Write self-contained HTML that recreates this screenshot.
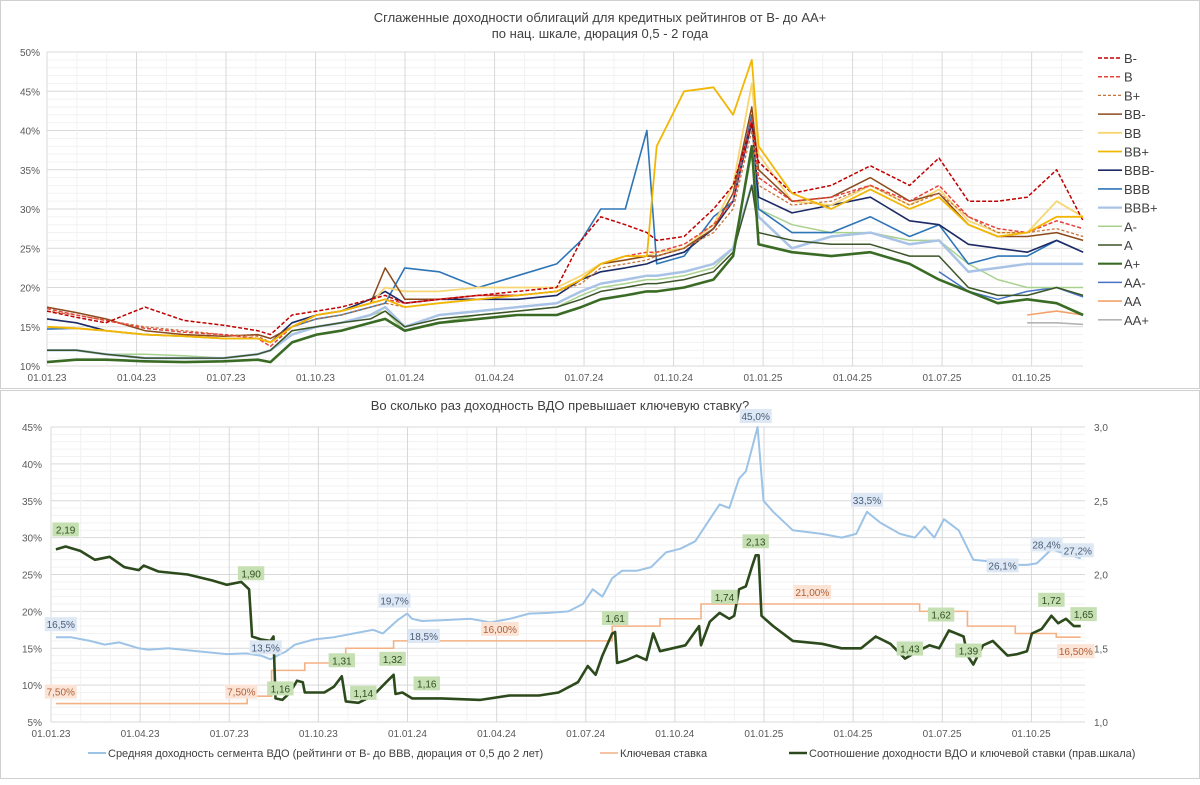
<!DOCTYPE html>
<html><head><meta charset="utf-8">
<style>
html,body{margin:0;padding:0;background:#fff;}
body{width:1200px;height:780px;overflow:hidden;font-family:"Liberation Sans",sans-serif;}
svg text{font-family:"Liberation Sans",sans-serif;}
</style></head>
<body>
<svg id="chart" width="1200" height="780" viewBox="0 0 1200 780" xmlns="http://www.w3.org/2000/svg">
<rect x="0.5" y="0.5" width="1199" height="388" fill="#fff" stroke="#d0d0d0"/>
<rect x="0.5" y="390.5" width="1199" height="388" fill="#fff" stroke="#d0d0d0"/>
<text x="600" y="22" text-anchor="middle" font-size="13" fill="#404040">Сглаженные доходности облигаций для кредитных рейтингов от B- до AA+</text>
<text x="600" y="38" text-anchor="middle" font-size="13" fill="#404040">по нац. шкале, дюрация 0,5 - 2 года</text>
<text x="560" y="410" text-anchor="middle" font-size="13" fill="#404040">Во сколько раз доходность ВДО превышает ключевую ставку?</text>
<g id="topChart"></g>
<g id="bottomChart"></g>
</svg>
<script>
// ---------- TOP CHART DATA ----------
const topDays = [0,30,60,100,140,180,215,228,250,275,300,330,345,365,400,440,480,520,545,565,590,612,622,650,680,700,719,726,760,800,840,880,910,940,970,1000,1030,1057];
const topXTicks = ['01.01.23','01.04.23','01.07.23','01.10.23','01.01.24','01.04.24','01.07.24','01.10.24','01.01.25','01.04.25','01.07.25','01.10.25'];
const topYTicks = [10,15,20,25,30,35,40,45,50];
const seriesNames = ['B-','B','B+','BB-','BB','BB+','BBB-','BBB','BBB+','A-','A','A+','AA-','AA','AA+'];
const sBm = [17,16.2,15.5,17.5,15.8,15.2,14.5,14,16.5,17,17.5,18.5,19,18,18.5,19,19.5,20,26,29,28,27,26,26.5,30,33,41,36,32,33,35.5,33,36.5,31,31,31.5,35,28.5];
const sB = [17.3,16.5,15.8,14.8,14.3,14,13.5,12.5,15,16.5,17,18,18.5,18,18.5,19,19,19.5,21,23,24,24.5,24.5,25.5,28,31,41.5,34,31,31.5,33,31,33,29,27.5,27,28.5,27.5];
const sBp = [17,16.5,15.8,15,14.5,14,13.8,13,15,16,16.5,17.5,18,17.5,18,18.5,19,19.5,20.5,22.5,23,23.5,24,25,27,30,40,33,30.5,31,33,30.5,32,29,27,27,27.5,26.5];
const sBBm = [17.5,16.8,16,14.5,14,13.8,14,13.5,15,16.5,17,18,22.5,18.5,18.5,19,19,19.5,21,23,23.5,24,24,25,27.5,32,43,35,31,31.5,34,31,32,28,26.5,26.5,27,26];
const sBB = [15,14.8,14.5,14,13.8,13.5,13.5,13,15,16.5,17,18,20,19.5,19.5,20,20,20,21.5,23,23.5,24,24.5,25,28,33,46,37,31,30.5,33,30.5,32.5,28.5,27,27,31,29];
const sBBp = [15,14.8,14.5,14,13.8,13.5,13.5,13,15,16.5,17,18,18.5,17.5,18,18.5,19,19.5,21,23,24,24,38,45,45.5,42,49,38,32,30,32.5,30,31.5,28,26.5,27,29,29];
const sBBBm = [16,15.5,14.5,14,13.8,13.5,13.5,13,15.5,16.5,17,18.5,19.5,18,18.5,18.5,18.5,19,21,22,22.5,23,23.5,24.5,27.5,31,41,31.5,29.5,30.5,31.5,28.5,28,25.5,25,24.5,26,24.5];
const sBBB = [14.7,14.8,14.5,14,13.8,13.5,13.5,13,15,16,16.5,17.5,18,22.5,22,20,21.5,23,26,30,30,40,23,24,29,31,42,30,27,27,29,26.5,28,23,24,24,26,24.5];
const sBBBp = [12,12,11.5,11,11,11,11.5,12,14,15,15.5,16.5,17.5,15,16.5,17,17.5,18,19.5,20.5,21,21.5,21.5,22,23,25,33,29,25,26.5,27,25.5,26,22,22.5,23,23,23];
const sAm = [12,12,11.5,11.5,11.3,11,11.5,12,14.5,15,15.5,16.5,17,14.5,15.5,16.5,17,17.5,19,20,20.5,21,21,21.5,22.5,25,37,30,28,27,27,26,26,23,21,20,20,20];
const sA = [12,12,11.5,11,11,11,11.5,12,14.5,15,15.5,16,17,15,16,16.5,17,17.5,18.5,19.5,20,20.5,20.5,21,22,24.5,33,27,26,25.5,25.5,24,24,20,19,19,20,19];
const sAp = [10.5,10.8,10.8,10.6,10.5,10.6,10.8,10.5,13,14,14.5,15.5,16,14.5,15.5,16,16.5,16.5,17.5,18.5,19,19.5,19.5,20,21,24,38,25.5,24.5,24,24.5,23,21,19.5,18,18.5,18,16.5];
const sAAm = [null,null,null,null,null,null,null,null,null,null,null,null,null,null,null,null,null,null,null,null,null,null,null,null,null,null,null,null,null,null,null,null,22,19.5,18.5,19.5,20,18.8];
const sAA = [null,null,null,null,null,null,null,null,null,null,null,null,null,null,null,null,null,null,null,null,null,null,null,null,null,null,null,null,null,null,null,null,null,null,null,16.5,17,16.5];
const sAAp = [null,null,null,null,null,null,null,null,null,null,null,null,null,null,null,null,null,null,null,null,null,null,null,null,null,null,null,null,null,null,null,null,null,null,null,15.5,15.5,15.3];

// ---------- BOTTOM CHART DATA ----------
const avgDays = [5,20,40,55,70,90,100,120,150,180,200,215,225,232,240,250,270,290,310,330,340,355,365,370,380,400,430,450,470,490,510,530,545,555,565,575,585,600,615,630,645,660,675,685,695,705,712,718,724,730,740,760,790,810,825,836,850,870,885,895,905,915,930,945,960,975,990,1000,1010,1025,1040,1055];
const avgVals = [16.5,16.5,16,15.5,15.8,15,14.8,15,14.6,14.2,14.3,14,13.5,14,14.5,15.5,16.2,16.5,17,17.5,17,18.8,19.7,19,18.7,18.8,19,18.5,19,19.7,19.8,20,21,23,22,24.5,25.5,25.5,26,28,28.5,29.5,32.5,34.5,34,38,39,42,45,35,33.5,31,30.5,30,30.5,33.5,32,30.5,30,31.5,30,32.5,31,27,26.8,26.1,26.3,26.3,26.5,28.4,27.8,27.2];
const rateDays = [5,201,226,260,302,351,575,624,666,890,939,988,1030,1055];
const rateVals = [7.5,8.5,12,13,15,16,18,19,21,20,18,17,16.5,16.5];
const ratioDays = [5,15,30,45,60,75,90,95,110,140,165,180,195,203,206,215,225,228,230,237,245,252,258,260,280,290,298,302,315,330,345,351,353,360,370,400,440,470,500,520,540,550,558,565,575,578,580,590,600,610,617,624,650,664,666,675,685,695,700,705,712,718,722,725,728,740,760,790,810,830,845,860,875,885,900,910,920,935,939,945,955,965,980,990,1000,1005,1015,1025,1032,1040,1048,1055];
const ratioVals = [2.17,2.19,2.16,2.1,2.12,2.05,2.03,2.06,2.02,2.0,1.96,1.93,1.95,1.9,1.58,1.56,1.55,1.58,1.16,1.15,1.2,1.28,1.27,1.2,1.2,1.24,1.31,1.14,1.13,1.18,1.28,1.32,1.19,1.2,1.16,1.16,1.15,1.18,1.18,1.2,1.27,1.38,1.32,1.45,1.6,1.61,1.4,1.42,1.45,1.42,1.6,1.48,1.52,1.65,1.52,1.68,1.74,1.7,1.72,1.9,1.92,2.05,2.13,2.13,1.72,1.65,1.55,1.53,1.5,1.5,1.58,1.53,1.43,1.47,1.52,1.5,1.62,1.58,1.45,1.39,1.52,1.55,1.45,1.46,1.48,1.6,1.63,1.72,1.67,1.7,1.65,1.65];
const bottomXTicks = topXTicks;
const leftYTicks = [5,10,15,20,25,30,35,40,45];
const rightYTicks = ['1,0','1,5','2,0','2,5','3,0'];
const rightYVals = [1.0,1.5,2.0,2.5,3.0];
const labelItems = [
 ['avg',10,16.5,'16,5%',-13],['avg',220,13.5,'13,5%',-12],['avg',352,19.7,'19,7%',-13],['avg',382,18.7,'18,5%',15],
 ['avg',722,45,'45,0%',-11],['avg',836,33.5,'33,5%',-12],['avg',975,26.1,'26,1%',-1],['avg',1020,28.4,'28,4%',-5],['avg',1052,27.2,'27,2%',-8],
 ['ratio',15,2.19,'2,19',-17],['ratio',205,1.9,'1,90',-16],['ratio',235,1.16,'1,16',-10],['ratio',298,1.31,'1,31',-16],['ratio',320,1.13,'1,14',-10],
 ['ratio',350,1.32,'1,32',-16],['ratio',385,1.16,'1,16',-15],['ratio',578,1.61,'1,61',-14],['ratio',690,1.74,'1,74',-16],['ratio',722,2.13,'2,13',-14],
 ['ratio',880,1.43,'1,43',-10],['ratio',912,1.62,'1,62',-16],['ratio',940,1.39,'1,39',-14],['ratio',1025,1.72,'1,72',-16],['ratio',1058,1.65,'1,65',-12],
 ['rate',10,7.5,'7,50%',-12],['rate',195,7.5,'7,50%',-12],['rate',460,16,'16,00%',-12],['rate',780,21,'21,00%',-12],['rate',1050,16.5,'16,50%',14]
];

const NS='http://www.w3.org/2000/svg';
function mk(parent,tag,attrs,txt){const e=document.createElementNS(NS,tag);for(const k in attrs)e.setAttribute(k,attrs[k]);if(txt!==undefined)e.textContent=txt;parent.appendChild(e);return e;}

// ---------- TOP CHART ----------
const T={l:47,r:1083,t:52,b:366,ymin:10,ymax:50};
const tx=d=>T.l+d*0.9802;
const ty=v=>T.b-(v-T.ymin)*(T.b-T.t)/(T.ymax-T.ymin);
const topG=document.getElementById('topChart');
const tg=mk(topG,'g',{});


for(let v=10;v<=50;v++){mk(tg,'line',{x1:T.l,x2:T.r,y1:ty(v),y2:ty(v),stroke:v%5==0?'#d9d9d9':'#f2f2f2','stroke-width':1});}
for(let m=0;m<=35;m++){const x=tx(m*30.44);if(x>T.r)break;mk(tg,'line',{x1:x,x2:x,y1:T.t,y2:T.b,stroke:m%3==0?'#d9d9d9':'#f2f2f2','stroke-width':1});}
topYTicks.forEach(v=>{const t=mk(topG,'text',{x:T.l-7,y:ty(v)+4,'text-anchor':'end','font-size':10,fill:'#595959'},v+'%');
 
 });
topXTicks.forEach((s,i)=>{const t=mk(topG,'text',{x:tx(i*91.3),y:381,'text-anchor':'middle','font-size':10,fill:'#595959'},s);
 
 });
const topSeries=[
 [sBm,'#c00000',1.5,'4,2'],[sB,'#e8403a',1.5,'4,2'],[sBp,'#c8743c',1.3,'3,2'],[sBBm,'#8b4a1c',1.5,null],
 [sBB,'#f7d675',1.8,null],[sBBp,'#f2b705',1.8,null],[sBBBm,'#1c2a66',1.6,null],[sBBB,'#2e75b6',1.6,null],
 [sBBBp,'#a9c3e6',2.5,null],[sAm,'#a9d18e',1.5,null],[sA,'#3b5428',1.5,null],[sAp,'#3a6b24',2.6,null],
 [sAAm,'#4472c4',1.5,null],[sAA,'#f4a26a',1.6,null],[sAAp,'#b4b4b4',1.6,null]];
const drawOrder=[14,13,12,9,8,10,11,7,6,4,3,2,1,0,5];
drawOrder.forEach(i=>{const vals=topSeries[i][0],c=topSeries[i][1],w=topSeries[i][2],dash=topSeries[i][3];let d='';let pen=false;
 vals.forEach((v,j)=>{if(v===null){pen=false;return;}d+=(pen?'L':'M')+tx(topDays[j]).toFixed(1)+','+ty(v).toFixed(1);pen=true;});
 const p=mk(topG,'path',{d:d,fill:'none',stroke:c,'stroke-width':w,'stroke-linejoin':'round'});
 if(dash)p.setAttribute('stroke-dasharray',dash);
 
 });
seriesNames.forEach((n,i)=>{const y=58+i*18.7;const c=topSeries[i][1],w=topSeries[i][2],dash=topSeries[i][3];
 const g=mk(topG,'g',{});
 
 
 const l=mk(g,'line',{x1:1098,x2:1122,y1:y,y2:y,stroke:c,'stroke-width':Math.min(w,2.2)});
 if(dash)l.setAttribute('stroke-dasharray',dash);
 mk(g,'text',{x:1124,y:y+5,'font-size':13,fill:'#404040'},n);});

// ---------- BOTTOM CHART ----------
const B={l:51,r:1085,t:427,b:722};
const bx=d=>B.l+d*0.976;
const byl=v=>B.b-(v-5)*(B.b-B.t)/40;
const byr=v=>B.b-(v-1)*(B.b-B.t)/2;
const botG=document.getElementById('bottomChart');
const bg=mk(botG,'g',{});


for(let v=5;v<=45;v++){mk(bg,'line',{x1:B.l,x2:B.r,y1:byl(v),y2:byl(v),stroke:v%5==0?'#d9d9d9':'#f2f2f2','stroke-width':1});}
for(let m=0;m<=35;m++){const x=bx(m*30.44);if(x>B.r)break;mk(bg,'line',{x1:x,x2:x,y1:B.t,y2:B.b,stroke:m%3==0?'#d9d9d9':'#f2f2f2','stroke-width':1});}
leftYTicks.forEach(v=>{const t=mk(botG,'text',{x:B.l-9,y:byl(v)+4,'text-anchor':'end','font-size':10,fill:'#595959'},v+'%');
 
 });
rightYTicks.forEach((s,i)=>{const t=mk(botG,'text',{x:B.r+9,y:byr(rightYVals[i])+4,'font-size':10,fill:'#595959'},s);
 
 });
bottomXTicks.forEach((s,i)=>{const t=mk(botG,'text',{x:bx(i*91.3),y:737,'text-anchor':'middle','font-size':10,fill:'#595959'},s);
 
 });
let dA='';avgVals.forEach((v,i)=>{dA+=(i?'L':'M')+bx(avgDays[i]).toFixed(1)+','+byl(v).toFixed(1);});
const pA=mk(botG,'path',{d:dA,fill:'none',stroke:'#9dc3e6','stroke-width':2,'stroke-linejoin':'round'});


let dR='';rateVals.forEach((v,i)=>{const x=bx(rateDays[i]);if(i==0)dR='M'+x+','+byl(v);else dR+='L'+x+','+byl(rateVals[i-1])+'L'+x+','+byl(v);});
const pR=mk(botG,'path',{d:dR,fill:'none',stroke:'#f4b183','stroke-width':1.6});


let dQ='';ratioVals.forEach((v,i)=>{dQ+=(i?'L':'M')+bx(ratioDays[i]).toFixed(1)+','+byr(v).toFixed(1);});
const pQ=mk(botG,'path',{d:dQ,fill:'none',stroke:'#2c4a1c','stroke-width':2.6,'stroke-linejoin':'round'});


const lblStyle={avg:['#dde8f4','#4a5d78'],ratio:['#c6e0b4','#2f4f1f'],rate:['#fbe4d5','#b0603a']};
labelItems.forEach(item=>{const s=item[0],d=item[1],v=item[2],txt=item[3],dy=item[4];const x=bx(d);const y=(s==='ratio'?byr(v):byl(v))+dy;
 const g=mk(botG,'g',{});
 
 
 const w=txt.length*5.6+4;
 mk(g,'rect',{x:x-w/2,y:y-7,width:w,height:14,fill:lblStyle[s][0]});
 mk(g,'text',{x:x,y:y+4,'text-anchor':'middle','font-size':10,fill:lblStyle[s][1]},txt);});
const legItems=[[88,'#9dc3e6',2,'Средняя доходность сегмента ВДО (рейтинги от B- до BBB, дюрация от 0,5 до 2 лет)'],[600,'#f4b183',1.6,'Ключевая ставка'],[789,'#2c4a1c',2.6,'Соотношение доходности ВДО и ключевой ставки (прав.шкала)']];
legItems.forEach(item=>{const x=item[0],c=item[1],w=item[2],t=item[3];const g=mk(botG,'g',{});
 
 
 mk(g,'line',{x1:x,x2:x+18,y1:753,y2:753,stroke:c,'stroke-width':w});
 mk(g,'text',{x:x+20,y:757,'font-size':11,fill:'#404040'},t);});
</script>
</body></html>
